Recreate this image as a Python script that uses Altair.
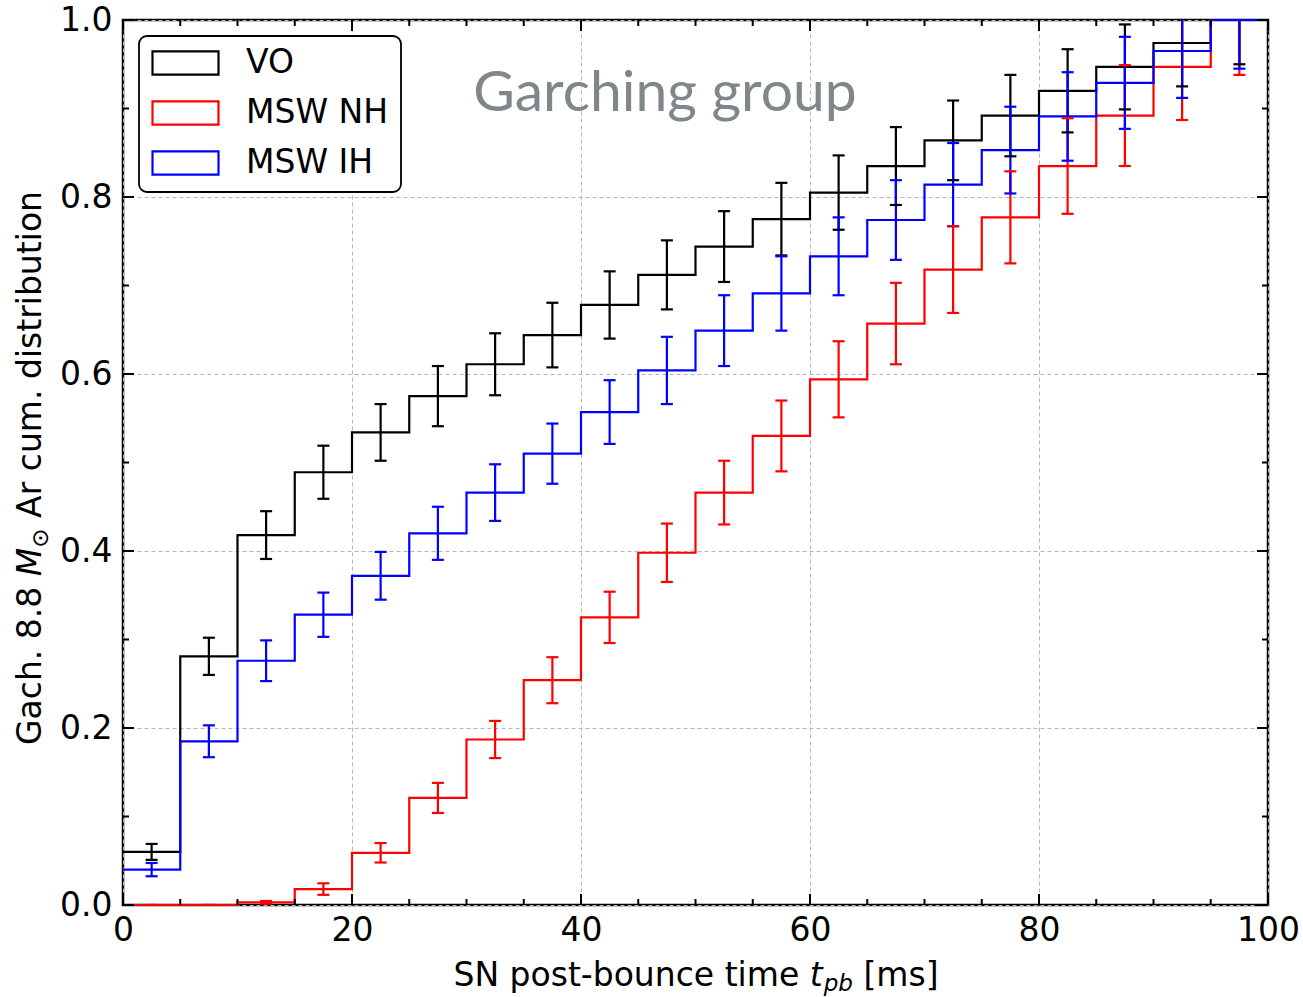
import altair as alt
import pandas as pd

# ---------------- data ----------------
bin_edges = [0, 5, 10, 15, 20, 25, 30, 35, 40, 45, 50, 55, 60, 65, 70, 75, 80, 85, 90, 95]
bin_centers = [2.5, 7.5, 12.5, 17.5, 22.5, 27.5, 32.5, 37.5, 42.5, 47.5,
               52.5, 57.5, 62.5, 67.5, 72.5, 77.5, 82.5, 87.5, 92.5, 97.5]
x_end = 100

series_names = ["VO", "MSW NH", "MSW IH"]
series_colors = ["#000000", "#ff0000", "#0000ff"]

vo = [0.060, 0.281, 0.418, 0.489, 0.534, 0.575, 0.611, 0.644, 0.678, 0.712,
      0.744, 0.775, 0.805, 0.835, 0.864, 0.892, 0.920, 0.947, 0.974, 1.000]
vo_err = [0.009, 0.021, 0.027, 0.030, 0.032, 0.034, 0.035, 0.0365, 0.038, 0.039,
          0.040, 0.041, 0.042, 0.044, 0.045, 0.046, 0.047, 0.048, 0.049, 0.050]

nh = [0.0, 0.0, 0.003, 0.018, 0.059, 0.121, 0.187, 0.254, 0.325, 0.398,
      0.466, 0.530, 0.594, 0.657, 0.718, 0.777, 0.835, 0.892, 0.947, 1.000]
nh_err = [0.0, 0.0, 0.0015, 0.0065, 0.011, 0.017, 0.021, 0.026, 0.029, 0.033,
          0.036, 0.040, 0.043, 0.046, 0.049, 0.052, 0.054, 0.057, 0.060, 0.062]

ih = [0.040, 0.185, 0.276, 0.328, 0.372, 0.420, 0.466, 0.510, 0.557, 0.604,
      0.649, 0.691, 0.733, 0.774, 0.814, 0.853, 0.891, 0.929, 0.965, 1.000]
ih_err = [0.0075, 0.018, 0.023, 0.025, 0.027, 0.030, 0.032, 0.034, 0.036, 0.038,
          0.040, 0.042, 0.044, 0.045, 0.047, 0.049, 0.050, 0.052, 0.053, 0.055]

x_major = [0, 20, 40, 60, 80, 100]
x_minor = [5, 10, 15, 25, 30, 35, 45, 50, 55, 65, 70, 75, 85, 90, 95]
y_major = [0.0, 0.2, 0.4, 0.6, 0.8, 1.0]
y_minor = [0.1, 0.3, 0.5, 0.7, 0.9]

annotation_text = "Garching group"

# ---------------- tables ----------------
step_rows, err_rows = [], []
for name, vals, errs in zip(series_names, [vo, nh, ih], [vo_err, nh_err, ih_err]):
    for e, v in zip(bin_edges + [x_end], vals + [vals[-1]]):
        step_rows.append({"series": name, "x": e, "y": v})
    for c, v, er in zip(bin_centers, vals, errs):
        err_rows.append({"series": name, "xc": c, "lo": v - er, "hi": v + er})
steps = pd.DataFrame(step_rows)
errs_df = pd.DataFrame(err_rows)

# ---------------- layout constants ----------------
W_PLOT, H_PLOT = 1145, 885
FS = 33
FONT = "DejaVu Sans"
LW = 2.2

xs = alt.Scale(domain=[0, 100], nice=False, zero=False)
ys = alt.Scale(domain=[0, 1], nice=False, zero=False)
cs = alt.Scale(domain=series_names, range=series_colors)

axis_x = alt.Axis(values=x_major, title=None, labelPadding=9, tickSize=0, ticks=False,
                  domain=False, labelFont=FONT, labelFontSize=FS, labelColor="black",
                  grid=True, gridDash=[4, 3], gridColor="#b5b5b5", gridWidth=1,
                  labelFlush=False)
axis_y = alt.Axis(values=y_major, format=".1f", title=None, labelPadding=11, tickSize=0,
                  ticks=False, domain=False, labelFont=FONT, labelFontSize=FS,
                  labelColor="black", grid=True, gridDash=[4, 3], gridColor="#b5b5b5",
                  gridWidth=1, labelFlush=False)

legend = alt.Legend(
    title=None, orient="none", legendX=16, legendY=16,
    symbolType="M-1,-0.35H1V0.35H-1Z", symbolSize=4356, symbolStrokeWidth=LW,
    symbolFillColor="transparent", symbolOpacity=1,
    labelFont=FONT, labelFontSize=FS, labelColor="black", labelOffset=26,
    clipHeight=30, rowPadding=17, padding=12,
    strokeColor="black", fillColor="white", cornerRadius=8,
)

lines = alt.Chart(steps).mark_line(interpolate="step-after", strokeWidth=LW).encode(
    x=alt.X("x:Q", scale=xs, axis=axis_x),
    y=alt.Y("y:Q", scale=ys, axis=axis_y),
    stroke=alt.Stroke("series:N", scale=cs, legend=legend),
    detail="series:N",
)

base_err = alt.Chart(errs_df)
err_rule = base_err.mark_rule(strokeWidth=LW, clip=True).encode(
    x=alt.X("xc:Q", scale=xs, axis=axis_x),
    y=alt.Y("lo:Q", scale=ys, axis=axis_y),
    y2="hi:Q",
    stroke=alt.Stroke("series:N", scale=cs, legend=legend),
)
cap_lo = base_err.mark_rule(strokeWidth=LW, clip=True, xOffset=-6, x2Offset=6).encode(
    x=alt.X("xc:Q", scale=xs, axis=axis_x),
    x2="xc:Q",
    y=alt.Y("lo:Q", scale=ys, axis=axis_y),
    stroke=alt.Stroke("series:N", scale=cs, legend=legend),
)
cap_hi = base_err.mark_rule(strokeWidth=LW, clip=True, xOffset=-6, x2Offset=6).encode(
    x=alt.X("xc:Q", scale=xs, axis=axis_x),
    x2="xc:Q",
    y=alt.Y("hi:Q", scale=ys, axis=axis_y),
    stroke=alt.Stroke("series:N", scale=cs, legend=legend),
)


# inward ticks on all four sides
def xticks(vals, length, at_top):
    ypos = length / 2 if at_top else H_PLOT - length / 2
    return alt.Chart(pd.DataFrame({"t": vals})).mark_tick(
        orient="vertical", size=length, thickness=2, color="black", opacity=1
    ).encode(x=alt.X("t:Q", scale=xs, axis=axis_x), y=alt.value(ypos))


def yticks(vals, length, at_right):
    xpos = W_PLOT - length / 2 if at_right else length / 2
    return alt.Chart(pd.DataFrame({"t": vals})).mark_tick(
        orient="horizontal", size=length, thickness=2, color="black", opacity=1
    ).encode(y=alt.Y("t:Q", scale=ys, axis=axis_y), x=alt.value(xpos))


tick_layers = [
    xticks(x_major, 11, False), xticks(x_minor, 6, False),
    xticks(x_major, 11, True), xticks(x_minor, 6, True),
    yticks(y_major, 11, False), yticks(y_minor, 6, False),
    yticks(y_major, 11, True), yticks(y_minor, 6, True),
]

# ---------------- text (titles and annotation) ----------------
one = pd.DataFrame({"k": [0]})
WID = {' ': 0.318, 'S': 0.635, 'N': 0.748, 'p': 0.635, 'o': 0.612, 's': 0.521, 't': 0.392,
       '-': 0.361, 'b': 0.635, 'u': 0.634, 'n': 0.634, 'c': 0.550, 'e': 0.615, 'i': 0.278,
       'm': 0.974, '[': 0.390, ']': 0.390, 'G': 0.775, 'a': 0.613, 'h': 0.634, '.': 0.318,
       '8': 0.636, 'M': 0.863, 'A': 0.684, 'r': 0.411, 'd': 0.635, '\u2299': 0.838}


def tw(s, fs):
    return sum(WID[c] for c in s) * fs


def txt(s, x, y, fs, italic=False, angle=0, color="black", font=FONT, align="left"):
    kw = dict(text=s, font=font, fontSize=fs, color=color, align=align,
              baseline="alphabetic", angle=angle)
    if italic:
        kw["fontStyle"] = "italic"
    return alt.Chart(one).mark_text(**kw).encode(x=alt.value(x), y=alt.value(y))


SUB = 0.7
# x-axis title: "SN post-bounce time t_pb [ms]"
seg1, seg2, seg3, seg4 = "SN post-bounce time", "t", "pb", "[ms]"
sp = tw(" ", FS)
total_x = tw(seg1, FS) + sp + tw(seg2, FS) + tw(seg3, FS * SUB) + sp + tw(seg4, FS)
x0 = W_PLOT / 2 - total_x / 2
base_y = 966
xt = [
    txt(seg1, x0, base_y, FS),
    txt(seg2, x0 + tw(seg1, FS) + sp, base_y, FS, italic=True),
    txt(seg3, x0 + tw(seg1, FS) + sp + tw(seg2, FS) + 1, base_y + 0.15 * FS, FS * SUB, italic=True),
    txt(seg4, x0 + tw(seg1, FS) + sp + tw(seg2, FS) + tw(seg3, FS * SUB) + sp + 1, base_y, FS),
]

# y-axis title: "Gach. 8.8 M_sun Ar cum. distribution" (rotated)
y1, y2, y3, y4 = "Gach. 8.8", "M", "\u2299", "Ar cum. distribution"
total_y = tw(y1, FS) + sp + tw(y2, FS) + tw(y3, FS * SUB) + sp + tw(y4, FS)
ystart = 448 + total_y / 2
bx = -82
yt = [
    txt(y1, bx, ystart, FS, angle=270),
    txt(y2, bx, ystart - tw(y1, FS) - sp, FS, italic=True, angle=270),
    txt(y3, bx + 0.2 * FS, ystart - tw(y1, FS) - sp - tw(y2, FS), FS * SUB, angle=270),
    txt(y4, bx, ystart - tw(y1, FS) - sp - tw(y2, FS) - tw(y3, FS * SUB) - sp, FS, angle=270),
]

annot = txt(annotation_text, 542, 91, 57, color="#80878a", font="Lato", align="center")

chart = alt.layer(
    lines, err_rule, cap_lo, cap_hi, *tick_layers, *xt, *yt, annot
).properties(
    width=W_PLOT, height=H_PLOT,
    autosize=alt.AutoSizeParams(type="none"),
    padding={"left": 123, "top": 20, "right": 35, "bottom": 92},
    background="white",
).configure_view(
    stroke="black", strokeWidth=2.5
).configure_legend(
    strokeWidth=1.8
)

chart.save("out.html", embed_options={"renderer": "svg", "actions": False})
